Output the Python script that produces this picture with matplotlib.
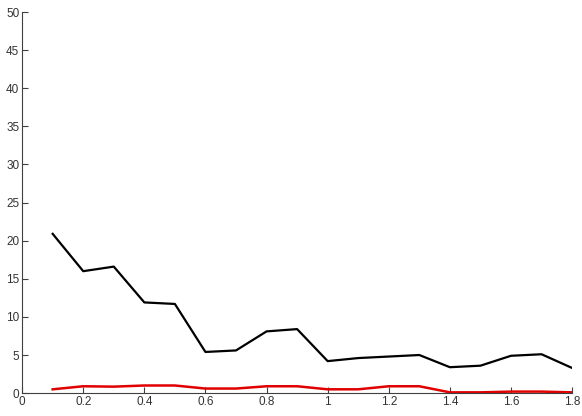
import matplotlib
matplotlib.use("Agg")
import matplotlib.pyplot as plt

x = [0.1, 0.2, 0.3, 0.4, 0.5, 0.6, 0.7, 0.8, 0.9, 1.0, 1.1, 1.2, 1.3, 1.4, 1.5, 1.6, 1.7, 1.8]
black = [20.9, 16.0, 16.6, 11.9, 11.7, 5.4, 5.6, 8.1, 8.4, 4.2, 4.6, 4.8, 5.0, 3.4, 3.6, 4.9, 5.1, 3.3]
red = [0.5, 0.9, 0.85, 1.0, 1.0, 0.6, 0.6, 0.9, 0.9, 0.5, 0.5, 0.9, 0.9, 0.1, 0.1, 0.2, 0.2, 0.1]

xticks = [0, 0.2, 0.4, 0.6, 0.8, 1, 1.2, 1.4, 1.6, 1.8]
xlabels = ["0", "0.2", "0.4", "0.6", "0.8", "1", "1.2", "1.4", "1.6", "1.8"]
yticks = [0, 5, 10, 15, 20, 25, 30, 35, 40, 45, 50]

plt.rcParams['font.family'] = ['Liberation Sans', 'DejaVu Sans']

fig = plt.figure(figsize=(5.82, 4.16), dpi=100)
ax = fig.add_axes([0.038, 0.055, 0.945, 0.916])

ax.plot(x, black, color="black", lw=1.6)
ax.plot(x, red, color="#e00000", lw=1.8)

ax.set_xlim(0, 1.8)
ax.set_ylim(0, 50)
ax.set_xticks(xticks)
ax.set_xticklabels(xlabels)
ax.set_yticks(yticks)

for s in ["top", "right"]:
    ax.spines[s].set_visible(False)
for s in ["left", "bottom"]:
    ax.spines[s].set_color("#404040")
    ax.spines[s].set_linewidth(0.8)
ax.tick_params(direction="in", length=4, width=0.8, color="#404040",
               labelsize=8.5, labelcolor="#333333", pad=2)

fig.savefig("out.png", dpi=100)
